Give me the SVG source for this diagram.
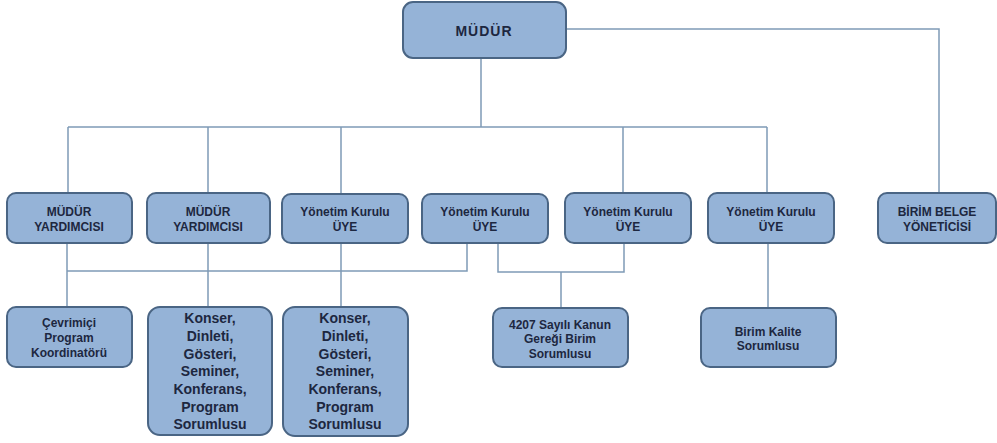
<svg xmlns="http://www.w3.org/2000/svg" width="997" height="443" viewBox="0 0 997 443">
<style>
.box{fill:#95b3d7;stroke:#4a6584;stroke-width:2}
.t{font-family:"Liberation Sans",Arial,sans-serif;font-weight:bold;fill:#1d2740;text-anchor:middle;font-size:12px}
.big{font-size:14px}
.top{font-size:14px;letter-spacing:1px}
.c{fill:none;stroke:#7f9bb6;stroke-width:1.5}
</style>
<rect width="997" height="443" fill="#ffffff"/>
<g id="connectors">
<path class="c" d="M481 58V127M566 29H939V193M68 127H767M68 127V193M208 127V193M341 127V193M623 127V193M767 127V193"/>
<path class="c" d="M67 243V307M67 271H467V243M208 243V307M341 243V307M498 243V272H624V243M561 272V308M768 243V308"/>
</g>
<g id="mudur"><rect class="box" x="403" y="2" width="163" height="56" rx="10"/><text class="t top" x="484" y="36">MÜDÜR</text></g>
<g id="myard1"><rect class="box" x="7" y="193" width="125" height="50" rx="9"/><text class="t" x="69" y="216">MÜDÜR</text><text class="t" x="69" y="231">YARDIMCISI</text></g>
<g id="myard2"><rect class="box" x="147" y="193" width="123" height="50" rx="9"/><text class="t" x="208" y="216">MÜDÜR</text><text class="t" x="208" y="231">YARDIMCISI</text></g>
<g id="yku1"><rect class="box" x="282" y="194" width="126" height="49" rx="9"/><text class="t" x="345" y="216">Yönetim Kurulu</text><text class="t" x="345" y="231">ÜYE</text></g>
<g id="yku2"><rect class="box" x="422" y="194" width="126" height="49" rx="9"/><text class="t" x="485" y="216">Yönetim Kurulu</text><text class="t" x="485" y="231">ÜYE</text></g>
<g id="yku3"><rect class="box" x="565" y="193" width="126" height="50" rx="9"/><text class="t" x="628" y="216">Yönetim Kurulu</text><text class="t" x="628" y="231">ÜYE</text></g>
<g id="yku4"><rect class="box" x="708" y="193" width="126" height="50" rx="9"/><text class="t" x="771" y="216">Yönetim Kurulu</text><text class="t" x="771" y="231">ÜYE</text></g>
<g id="belge"><rect class="box" x="878" y="193" width="118" height="50" rx="9"/><text class="t" x="937" y="216">BİRİM BELGE</text><text class="t" x="937" y="231">YÖNETİCİSİ</text></g>
<g id="cevrimici"><rect class="box" x="7" y="307" width="125" height="60" rx="9"/><text class="t" x="69" y="327">Çevrimiçi</text><text class="t" x="69" y="342">Program</text><text class="t" x="69" y="357">Koordinatörü</text></g>
<g id="konser1"><rect class="box" x="148" y="307" width="124" height="128" rx="12"/>
<text class="t big" x="210" y="323">Konser,</text><text class="t big" x="210" y="341">Dinleti,</text><text class="t big" x="210" y="359">Gösteri,</text><text class="t big" x="210" y="376">Seminer,</text><text class="t big" x="210" y="394">Konferans,</text><text class="t big" x="210" y="412">Program</text><text class="t big" x="210" y="429">Sorumlusu</text></g>
<g id="konser2"><rect class="box" x="283" y="307" width="125" height="129" rx="12"/>
<text class="t big" x="345" y="323">Konser,</text><text class="t big" x="345" y="341">Dinleti,</text><text class="t big" x="345" y="359">Gösteri,</text><text class="t big" x="345" y="376">Seminer,</text><text class="t big" x="345" y="394">Konferans,</text><text class="t big" x="345" y="412">Program</text><text class="t big" x="345" y="429">Sorumlusu</text></g>
<g id="kanun"><rect class="box" x="493" y="308" width="135" height="59" rx="9"/><text class="t" x="560" y="329">4207 Sayılı Kanun</text><text class="t" x="560" y="343">Gereği Birim</text><text class="t" x="560" y="358">Sorumlusu</text></g>
<g id="kalite"><rect class="box" x="701" y="308" width="135" height="59" rx="9"/><text class="t" x="768" y="336">Birim Kalite</text><text class="t" x="768" y="350">Sorumlusu</text></g>
</svg>
